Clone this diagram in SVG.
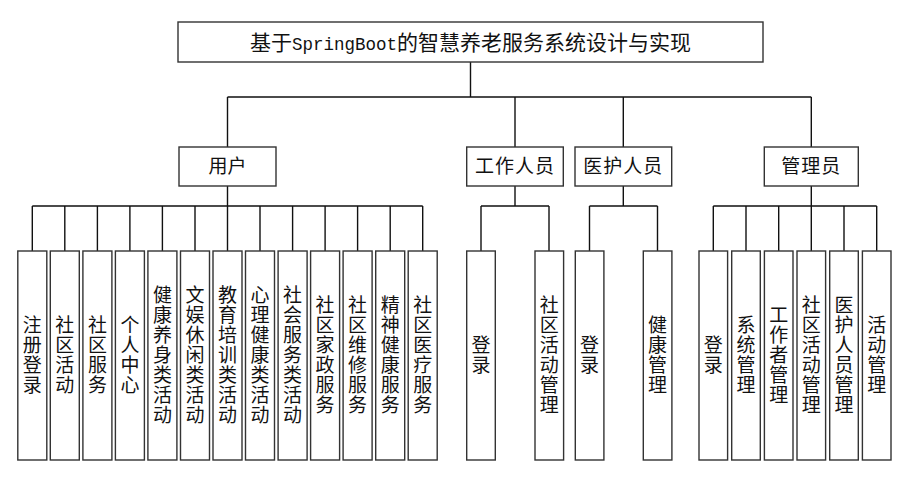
<svg xmlns="http://www.w3.org/2000/svg" width="906" height="479" viewBox="0 0 906 479">
<style>
.box{fill:#fff;stroke:#333;stroke-width:1.4}
.ln{fill:none;stroke:#111;stroke-width:1.4}
.t{font-family:"Noto Sans CJK SC","Noto Sans CJK JP",sans-serif;font-size:19px;fill:#111;text-anchor:middle}
.v{font-family:"Noto Sans CJK SC","Noto Sans CJK JP",sans-serif;font-size:19px;fill:#111;text-anchor:middle;writing-mode:vertical-rl;letter-spacing:1px}
.m{font-family:"Liberation Mono",monospace;font-size:17.5px}
</style>
<rect width="906" height="479" fill="#fff"/>
<g id="connectors">
<path class="ln" d="M470.5 62V97M227.5 97H811.3M227.5 97V147M515 97V147M623.3 97V147M811.3 97V147"/>
<path class="ln" d="M227.5 186V206M32.3 206H422.7M32.3 206V251M64.8 206V251M97.4 206V251M129.9 206V251M162.4 206V251M195 206V251M227.5 206V251M260 206V251M292.6 206V251M325.1 206V251M357.6 206V251M390.2 206V251M422.7 206V251"/>
<path class="ln" d="M515 186V206M481 206H549M481 206V251M549 206V251"/>
<path class="ln" d="M623.3 186V206M589.5 206H657.5M589.5 206V251M657.5 206V251"/>
<path class="ln" d="M811.3 186V206M713.3 206H876.7M713.3 206V251M746 206V251M778.7 206V251M811.3 206V251M844 206V251M876.7 206V251"/>
</g>
<g id="root"><rect class="box" x="178" y="22" width="585" height="40"/><text class="t" x="470.5" y="49.5" style="font-size:21px">基于<tspan class="m">SpringBoot</tspan>的智慧养老服务系统设计与实现</text></g>
<g id="user"><rect class="box" x="179" y="147" width="97" height="39"/><text class="t" x="227.5" y="173">用户</text></g>
<g id="staff"><rect class="box" x="466.7" y="147" width="96.6" height="39"/><text class="t" x="515" y="173" letter-spacing="1">工作人员</text></g>
<g id="nurse"><rect class="box" x="575" y="147" width="96.7" height="39"/><text class="t" x="623.3" y="173" letter-spacing="1">医护人员</text></g>
<g id="admin"><rect class="box" x="764.3" y="147" width="94" height="39"/><text class="t" x="811.3" y="173" letter-spacing="1">管理员</text></g>
<g id="u1"><rect class="box" x="17.8" y="251" width="29" height="209"/><text class="v" x="32.3" y="355.5">注册登录</text></g>
<g id="u2"><rect class="box" x="50.3" y="251" width="29" height="209"/><text class="v" x="64.8" y="355.5">社区活动</text></g>
<g id="u3"><rect class="box" x="82.9" y="251" width="29" height="209"/><text class="v" x="97.4" y="355.5">社区服务</text></g>
<g id="u4"><rect class="box" x="115.4" y="251" width="29" height="209"/><text class="v" x="129.9" y="355.5">个人中心</text></g>
<g id="u5"><rect class="box" x="147.9" y="251" width="29" height="209"/><text class="v" x="162.4" y="355.5">健康养身类活动</text></g>
<g id="u6"><rect class="box" x="180.5" y="251" width="29" height="209"/><text class="v" x="195" y="355.5">文娱休闲类活动</text></g>
<g id="u7"><rect class="box" x="213" y="251" width="29" height="209"/><text class="v" x="227.5" y="355.5">教育培训类活动</text></g>
<g id="u8"><rect class="box" x="245.5" y="251" width="29" height="209"/><text class="v" x="260" y="355.5">心理健康类活动</text></g>
<g id="u9"><rect class="box" x="278.1" y="251" width="29" height="209"/><text class="v" x="292.6" y="355.5">社会服务类活动</text></g>
<g id="u10"><rect class="box" x="310.6" y="251" width="29" height="209"/><text class="v" x="325.1" y="355.5">社区家政服务</text></g>
<g id="u11"><rect class="box" x="343.1" y="251" width="29" height="209"/><text class="v" x="357.6" y="355.5">社区维修服务</text></g>
<g id="u12"><rect class="box" x="375.7" y="251" width="29" height="209"/><text class="v" x="390.2" y="355.5">精神健康服务</text></g>
<g id="u13"><rect class="box" x="408.2" y="251" width="29" height="209"/><text class="v" x="422.7" y="355.5">社区医疗服务</text></g>
<g id="s1"><rect class="box" x="466.7" y="251" width="28.6" height="209"/><text class="v" x="481" y="355.5">登录</text></g>
<g id="s2"><rect class="box" x="535" y="251" width="28.6" height="209"/><text class="v" x="549.3" y="355.5">社区活动管理</text></g>
<g id="n1"><rect class="box" x="575.3" y="251" width="28.6" height="209"/><text class="v" x="589.6" y="355.5">登录</text></g>
<g id="n2"><rect class="box" x="643.3" y="251" width="28.6" height="209"/><text class="v" x="657.6" y="355.5">健康管理</text></g>
<g id="a1"><rect class="box" x="699" y="251" width="28.6" height="209"/><text class="v" x="713.3" y="355.5">登录</text></g>
<g id="a2"><rect class="box" x="731.7" y="251" width="28.6" height="209"/><text class="v" x="746" y="355.5">系统管理</text></g>
<g id="a3"><rect class="box" x="764.4" y="251" width="28.6" height="209"/><text class="v" x="778.7" y="355.5">工作者管理</text></g>
<g id="a4"><rect class="box" x="797" y="251" width="28.6" height="209"/><text class="v" x="811.3" y="355.5">社区活动管理</text></g>
<g id="a5"><rect class="box" x="829.7" y="251" width="28.6" height="209"/><text class="v" x="844" y="355.5">医护人员管理</text></g>
<g id="a6"><rect class="box" x="862.4" y="251" width="28.6" height="209"/><text class="v" x="876.7" y="355.5">活动管理</text></g>
</svg>
